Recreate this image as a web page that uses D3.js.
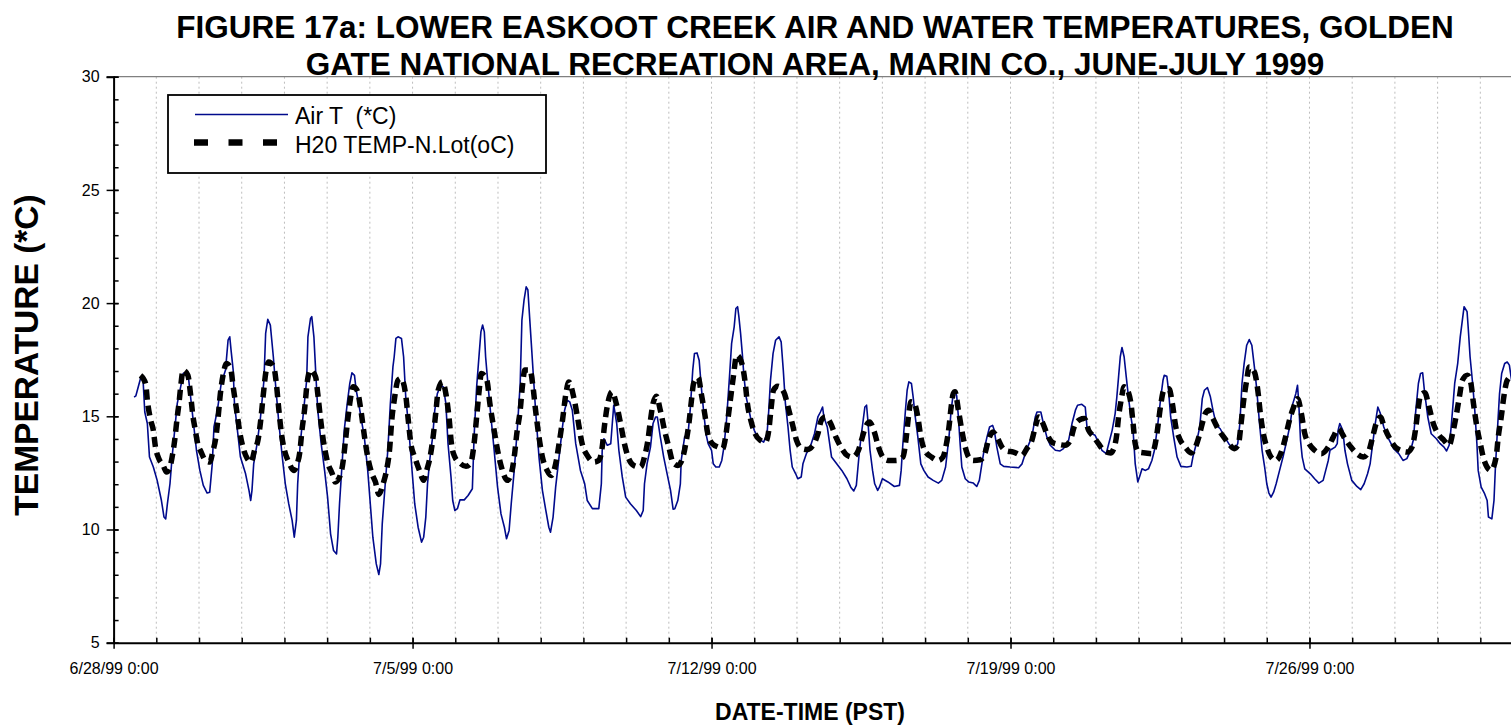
<!DOCTYPE html>
<html><head><meta charset="utf-8">
<script src="https://cdn.jsdelivr.net/npm/d3@7"></script>
<style>
html,body{margin:0;padding:0;background:#fff;}
svg{display:block;font-family:"Liberation Sans",Arial,sans-serif;}
</style></head>
<body>
<svg id="chart" width="1511" height="727"></svg>
<script>
// ---- DATA (day offset from 6/28/99 0:00, temperature °C) ----
const startDate = new Date(1999, 5, 28, 0, 0);
const titleLines = ["FIGURE 17a: LOWER EASKOOT CREEK AIR AND WATER TEMPERATURES, GOLDEN",
                    "GATE NATIONAL RECREATION AREA, MARIN CO., JUNE-JULY 1999"];
const seriesNames = ["Air T  (*C)", "H20 TEMP-N.Lot(oC)"];
const yMajorTicks = [5, 10, 15, 20, 25, 30];
const xMajorTickDays = [0, 7, 14, 21, 28];

const airT = [[0.48,15.85],[0.52,15.9],[0.63,16.67],[0.69,16.6],[0.73,15.19],[0.79,14.68],[0.84,13.2],[0.93,12.76],[1.02,12.17],[1.12,11.28],[1.18,10.55],[1.22,10.47],[1.26,11.14],[1.32,12.02],[1.37,13.2],[1.43,14.38],[1.49,15.56],[1.57,16.3],[1.63,16.89],[1.71,16.96],[1.76,16.59],[1.82,15.56],[1.88,14.53],[1.94,13.5],[2.02,12.61],[2.1,11.95],[2.19,11.61],[2.25,11.65],[2.31,12.9],[2.35,14.53],[2.43,15.27],[2.52,16.45],[2.62,17.04],[2.68,18.36],[2.72,18.51],[2.75,17.92],[2.8,17.04],[2.83,15.56],[2.89,14.53],[2.97,13.2],[3.09,12.46],[3.17,11.73],[3.21,11.28],[3.24,11.73],[3.28,12.9],[3.36,13.79],[3.44,14.97],[3.52,16.59],[3.56,18.66],[3.61,19.28],[3.67,19.03],[3.74,17.63],[3.79,16.45],[3.87,14.68],[3.95,13.2],[4.02,12.02],[4.1,11.14],[4.18,10.4],[4.23,9.66],[4.28,10.4],[4.31,12.02],[4.37,13.79],[4.45,15.27],[4.52,16.59],[4.55,18.51],[4.61,19.32],[4.64,19.4],[4.69,18.51],[4.73,17.04],[4.78,15.27],[4.86,13.79],[4.94,12.61],[5.01,11.43],[5.08,9.81],[5.15,9.07],[5.22,8.92],[5.25,9.66],[5.29,11.14],[5.36,13.2],[5.4,14.38],[5.47,15.56],[5.53,16.45],[5.58,16.92],[5.64,16.81],[5.68,16.15],[5.74,15.56],[5.79,14.97],[5.87,14.09],[5.95,12.61],[6.01,11.14],[6.07,9.66],[6.15,8.48],[6.21,8.01],[6.25,8.48],[6.29,10.25],[6.36,12.02],[6.42,13.5],[6.48,15.56],[6.54,17.18],[6.57,17.63],[6.61,18.44],[6.66,18.51],[6.74,18.44],[6.79,17.63],[6.84,15.86],[6.9,14.68],[6.95,13.5],[7.0,12.32],[7.05,11.14],[7.13,10.1],[7.21,9.44],[7.26,9.66],[7.31,10.55],[7.35,12.02],[7.41,13.2],[7.47,14.09],[7.52,15.27],[7.58,16.0],[7.66,16.37],[7.72,16.3],[7.78,15.56],[7.83,13.79],[7.9,12.32],[7.94,11.28],[7.99,10.84],[8.05,10.92],[8.11,11.31],[8.21,11.31],[8.3,11.5],[8.4,11.8],[8.44,14.09],[8.5,16.3],[8.56,17.77],[8.6,18.73],[8.64,19.03],[8.68,18.73],[8.71,17.63],[8.77,16.3],[8.85,14.68],[8.91,13.5],[8.99,11.87],[9.07,10.69],[9.15,10.1],[9.2,9.59],[9.26,9.96],[9.31,11.14],[9.38,12.61],[9.45,14.38],[9.52,16.45],[9.56,19.25],[9.61,20.13],[9.66,20.72],[9.7,20.58],[9.73,19.69],[9.78,18.22],[9.83,16.74],[9.88,15.27],[9.96,13.2],[10.04,11.73],[10.12,10.84],[10.19,10.1],[10.23,9.88],[10.29,10.55],[10.35,11.87],[10.43,13.2],[10.51,14.53],[10.56,15.27],[10.62,15.71],[10.68,15.64],[10.74,15.27],[10.82,13.79],[10.93,12.61],[11.03,12.02],[11.09,11.28],[11.21,10.92],[11.36,10.92],[11.42,12.02],[11.44,13.5],[11.48,14.01],[11.56,13.72],[11.64,13.79],[11.67,14.53],[11.71,15.49],[11.78,14.68],[11.83,13.5],[11.91,12.32],[11.99,11.43],[12.1,11.14],[12.24,10.84],[12.34,10.57],[12.4,10.84],[12.43,12.02],[12.49,12.9],[12.57,13.64],[12.63,14.68],[12.69,14.97],[12.73,14.97],[12.8,14.09],[12.88,13.2],[12.96,12.46],[13.04,11.73],[13.1,10.9],[13.14,10.92],[13.21,11.28],[13.27,12.02],[13.29,13.05],[13.37,14.09],[13.45,14.23],[13.5,15.27],[13.56,17.04],[13.6,17.77],[13.66,17.8],[13.71,17.48],[13.76,16.3],[13.82,15.12],[13.87,14.23],[13.92,13.79],[14.0,13.5],[14.04,12.9],[14.1,12.76],[14.18,12.76],[14.24,13.05],[14.29,13.64],[14.35,14.82],[14.42,16.74],[14.47,18.22],[14.53,18.95],[14.57,19.76],[14.61,19.84],[14.64,19.4],[14.68,18.66],[14.72,17.77],[14.76,16.74],[14.81,15.86],[14.91,14.97],[15.0,14.38],[15.1,14.01],[15.22,13.86],[15.3,14.23],[15.34,15.27],[15.38,16.59],[15.44,17.77],[15.5,18.36],[15.58,18.51],[15.63,18.29],[15.68,17.04],[15.73,15.56],[15.79,14.53],[15.84,13.5],[15.89,12.76],[15.97,12.46],[16.02,12.24],[16.1,12.32],[16.14,12.9],[16.22,13.35],[16.31,13.64],[16.41,14.23],[16.49,14.97],[16.55,15.19],[16.6,15.41],[16.63,14.97],[16.71,14.53],[16.81,13.2],[16.93,12.9],[17.05,12.61],[17.17,12.24],[17.26,11.87],[17.33,11.7],[17.39,11.95],[17.45,13.2],[17.5,14.09],[17.55,14.82],[17.59,15.41],[17.63,15.49],[17.66,14.82],[17.71,13.5],[17.77,12.61],[17.82,12.02],[17.89,11.73],[17.93,11.87],[18.0,12.24],[18.13,12.1],[18.28,11.9],[18.4,11.95],[18.44,12.61],[18.48,13.79],[18.54,15.27],[18.58,16.15],[18.62,16.52],[18.68,16.45],[18.72,15.86],[18.77,14.97],[18.83,14.09],[18.9,12.9],[18.97,12.61],[19.07,12.32],[19.19,12.17],[19.31,12.05],[19.39,12.17],[19.48,12.76],[19.56,14.09],[19.61,15.27],[19.66,16.0],[19.7,16.15],[19.74,15.9],[19.78,14.97],[19.82,13.79],[19.86,12.76],[19.94,12.24],[20.02,12.1],[20.13,12.05],[20.21,11.9],[20.27,12.17],[20.33,12.9],[20.38,13.5],[20.45,14.09],[20.51,14.53],[20.58,14.6],[20.62,14.38],[20.68,13.64],[20.76,12.9],[20.84,12.79],[20.99,12.76],[21.19,12.73],[21.27,12.9],[21.32,13.2],[21.4,13.64],[21.5,14.09],[21.58,14.97],[21.62,15.19],[21.71,15.19],[21.77,14.68],[21.85,14.09],[21.93,13.72],[22.05,13.5],[22.16,13.47],[22.24,13.57],[22.36,13.94],[22.44,14.68],[22.52,15.27],[22.57,15.49],[22.67,15.53],[22.75,15.41],[22.79,14.53],[22.87,14.26],[22.98,14.16],[23.06,13.86],[23.14,13.5],[23.24,13.35],[23.3,13.79],[23.38,14.38],[23.45,15.12],[23.49,15.86],[23.53,16.74],[23.57,17.63],[23.61,18.04],[23.66,17.63],[23.71,16.74],[23.77,15.71],[23.82,14.97],[23.87,14.38],[23.92,12.9],[23.98,12.1],[24.02,12.32],[24.08,12.68],[24.16,12.61],[24.23,12.68],[24.31,13.05],[24.37,13.5],[24.45,14.68],[24.52,15.86],[24.57,16.59],[24.6,16.81],[24.66,16.77],[24.7,16.15],[24.75,14.97],[24.82,14.09],[24.9,13.2],[24.99,12.79],[25.13,12.76],[25.23,12.79],[25.27,13.2],[25.35,13.79],[25.43,14.53],[25.49,15.78],[25.54,16.15],[25.61,16.27],[25.68,15.86],[25.74,15.27],[25.82,14.6],[25.91,14.45],[26.01,14.09],[26.11,13.79],[26.24,13.5],[26.32,13.79],[26.37,14.68],[26.42,16.45],[26.47,17.33],[26.53,18.14],[26.59,18.39],[26.65,18.14],[26.71,17.18],[26.76,16.3],[26.83,14.68],[26.89,13.5],[26.95,12.76],[27.0,12.02],[27.05,11.61],[27.1,11.43],[27.16,11.65],[27.22,12.02],[27.3,12.61],[27.38,13.2],[27.47,13.94],[27.55,14.68],[27.61,15.56],[27.68,16.0],[27.72,16.37],[27.75,15.56],[27.79,13.94],[27.83,13.2],[27.89,12.68],[28.02,12.46],[28.12,12.24],[28.22,12.05],[28.32,12.17],[28.38,12.61],[28.44,13.05],[28.48,13.5],[28.6,13.64],[28.65,13.79],[28.67,14.38],[28.71,14.68],[28.78,14.38],[28.83,13.5],[28.89,12.9],[28.99,12.17],[29.11,11.9],[29.2,11.76],[29.28,12.02],[29.36,12.46],[29.42,12.9],[29.48,13.79],[29.54,14.68],[29.6,15.41],[29.66,15.12],[29.74,14.53],[29.85,14.01],[29.97,13.57],[30.09,13.35],[30.19,13.05],[30.28,13.13],[30.37,13.5],[30.43,13.94],[30.49,15.27],[30.55,16.45],[30.6,16.89],[30.65,16.92],[30.69,16.15],[30.77,14.97],[30.85,14.23],[30.97,14.01],[31.06,13.79],[31.15,13.64],[31.21,13.47],[31.27,13.72],[31.31,14.38],[31.35,15.27],[31.4,16.45],[31.47,17.33],[31.53,18.51],[31.59,19.4],[31.62,19.84],[31.69,19.62],[31.72,18.81],[31.76,17.63],[31.82,16.45],[31.87,15.27],[31.92,13.79],[31.95,12.61],[32.02,11.87],[32.1,11.58],[32.16,11.28],[32.19,10.55],[32.27,10.47],[32.32,11.28],[32.35,12.61],[32.4,14.38],[32.45,16.0],[32.5,16.89],[32.57,17.33],[32.63,17.4],[32.68,17.26],[32.72,16.74],[32.76,16.3]];

const waterT = [[0.63,16.81],[0.75,16.45],[0.79,15.71],[0.87,14.82],[0.93,14.38],[0.98,13.64],[1.06,13.13],[1.16,12.83],[1.24,12.54],[1.32,12.76],[1.37,13.2],[1.43,13.94],[1.49,14.97],[1.53,15.56],[1.57,16.3],[1.63,17.04],[1.74,16.81],[1.8,16.0],[1.86,14.97],[1.9,14.53],[1.97,13.79],[2.05,13.42],[2.15,13.05],[2.25,12.98],[2.33,13.5],[2.39,14.01],[2.44,14.82],[2.5,16.0],[2.57,16.89],[2.64,17.33],[2.74,17.11],[2.8,16.3],[2.88,15.27],[2.96,14.23],[3.05,13.5],[3.13,13.13],[3.22,12.98],[3.3,13.5],[3.38,13.94],[3.44,14.75],[3.5,15.86],[3.56,16.89],[3.63,17.4],[3.75,17.18],[3.81,16.45],[3.87,15.27],[3.93,14.23],[4.0,13.5],[4.1,12.98],[4.22,12.61],[4.3,12.9],[4.36,13.42],[4.41,14.38],[4.47,15.27],[4.53,16.45],[4.61,17.04],[4.73,16.74],[4.78,16.0],[4.84,14.97],[4.91,13.94],[5.0,13.05],[5.12,12.46],[5.19,12.1],[5.29,12.32],[5.36,12.83],[5.43,13.94],[5.48,14.82],[5.54,15.71],[5.61,16.3],[5.7,16.15],[5.79,15.27],[5.87,14.16],[5.95,13.2],[6.05,12.46],[6.13,12.1],[6.21,11.55],[6.31,12.02],[6.39,12.61],[6.46,13.5],[6.52,14.97],[6.57,15.7],[6.66,16.6],[6.73,16.67],[6.84,15.93],[6.9,14.82],[6.96,13.79],[7.05,13.2],[7.16,12.61],[7.26,12.17],[7.33,12.61],[7.41,13.2],[7.49,14.23],[7.55,15.27],[7.6,16.15],[7.7,16.52],[7.78,16.0],[7.86,14.82],[7.91,13.79],[7.99,13.2],[8.11,12.93],[8.25,12.79],[8.36,12.93],[8.44,13.79],[8.5,14.97],[8.56,16.15],[8.61,16.89],[8.74,16.59],[8.81,15.56],[8.91,14.38],[8.99,13.5],[9.08,12.76],[9.22,12.17],[9.31,12.46],[9.38,13.2],[9.44,14.23],[9.52,15.27],[9.57,16.3],[9.63,17.04],[9.75,17.04],[9.82,16.3],[9.88,15.27],[9.96,14.09],[10.04,13.2],[10.15,12.61],[10.25,12.39],[10.35,12.9],[10.43,13.79],[10.51,14.82],[10.59,16.0],[10.66,16.52],[10.78,15.78],[10.86,14.97],[10.97,13.79],[11.09,13.27],[11.24,12.98],[11.36,13.05],[11.44,13.64],[11.49,14.53],[11.57,15.56],[11.67,16.08],[11.77,15.56],[11.87,14.68],[11.96,13.79],[12.06,13.13],[12.18,12.83],[12.34,12.76],[12.43,13.2],[12.51,13.94],[12.57,14.82],[12.63,15.56],[12.71,15.89],[12.8,15.27],[12.9,14.38],[13.0,13.64],[13.1,12.95],[13.21,12.83],[13.33,13.2],[13.41,13.94],[13.47,14.68],[13.53,15.71],[13.58,16.45],[13.69,16.71],[13.76,16.0],[13.84,15.12],[13.92,14.16],[14.02,13.79],[14.16,13.64],[14.26,13.57],[14.34,14.23],[14.39,14.97],[14.45,15.86],[14.51,16.74],[14.59,17.7],[14.71,17.33],[14.79,16.45],[14.84,15.56],[14.92,14.82],[15.02,14.23],[15.14,13.94],[15.26,13.86],[15.34,14.38],[15.39,15.27],[15.45,16.15],[15.55,16.33],[15.69,16.08],[15.81,15.27],[15.89,14.68],[15.99,13.94],[16.12,13.57],[16.24,13.53],[16.4,13.79],[16.49,14.23],[16.57,14.82],[16.67,14.97],[16.79,14.68],[16.91,14.09],[17.03,13.64],[17.18,13.27],[17.3,13.2],[17.44,13.5],[17.51,13.94],[17.59,14.45],[17.7,14.75],[17.81,14.31],[17.91,13.64],[18.01,13.2],[18.13,13.05],[18.32,13.05],[18.48,13.2],[18.56,14.09],[18.61,14.97],[18.67,15.64],[18.75,15.56],[18.83,14.97],[18.9,14.09],[18.99,13.5],[19.15,13.2],[19.31,13.05],[19.42,13.2],[19.5,13.79],[19.56,14.53],[19.61,15.41],[19.66,16.0],[19.7,16.08],[19.78,15.27],[19.86,14.38],[19.94,13.64],[20.02,13.2],[20.13,13.05],[20.29,13.08],[20.41,13.42],[20.48,13.94],[20.59,14.31],[20.68,14.09],[20.8,13.64],[20.91,13.47],[21.07,13.42],[21.27,13.27],[21.38,13.57],[21.5,13.94],[21.58,14.53],[21.66,14.97],[21.76,14.68],[21.85,14.23],[21.97,13.86],[22.13,13.76],[22.28,13.72],[22.4,13.94],[22.49,14.53],[22.62,14.85],[22.73,14.9],[22.83,14.38],[22.95,14.09],[23.06,13.79],[23.18,13.5],[23.34,13.38],[23.43,13.64],[23.49,14.23],[23.53,14.97],[23.59,15.71],[23.66,16.3],[23.77,16.0],[23.82,15.56],[23.87,14.68],[23.92,13.79],[24.0,13.42],[24.16,13.38],[24.31,13.35],[24.39,13.79],[24.45,14.53],[24.51,15.41],[24.59,16.15],[24.71,16.22],[24.79,15.56],[24.87,14.53],[24.96,14.01],[25.09,13.64],[25.23,13.38],[25.33,13.64],[25.41,14.09],[25.49,14.68],[25.56,15.12],[25.64,15.27],[25.74,14.9],[25.88,14.38],[25.99,14.09],[26.11,13.79],[26.24,13.57],[26.34,13.79],[26.39,14.53],[26.45,15.56],[26.53,16.59],[26.59,17.18],[26.71,16.96],[26.79,16.15],[26.85,15.12],[26.92,14.23],[27.0,13.64],[27.1,13.2],[27.22,13.05],[27.34,13.42],[27.44,14.09],[27.53,14.82],[27.63,15.41],[27.72,15.78],[27.81,15.12],[27.89,14.23],[27.99,13.79],[28.12,13.5],[28.28,13.35],[28.44,13.64],[28.56,14.09],[28.67,14.45],[28.83,14.01],[28.97,13.64],[29.11,13.35],[29.26,13.2],[29.38,13.42],[29.48,14.09],[29.56,14.68],[29.66,14.97],[29.75,14.53],[29.88,14.01],[30.01,13.64],[30.13,13.5],[30.29,13.42],[30.4,13.64],[30.48,14.38],[30.54,15.27],[30.6,15.93],[30.7,16.04],[30.8,15.41],[30.9,14.68],[31.01,14.23],[31.15,13.94],[31.27,13.72],[31.35,14.23],[31.43,14.97],[31.51,15.86],[31.58,16.59],[31.7,16.81],[31.78,16.45],[31.84,15.56],[31.92,14.53],[32.0,13.79],[32.09,13.05],[32.25,12.61],[32.37,13.2],[32.42,14.09],[32.49,14.97],[32.55,15.86],[32.63,16.59],[32.72,16.74],[32.78,16.7]];

// ---- LAYOUT ----
const svg = d3.select("#chart");
const plotLeft = 113.6, plotTop = 76.7, plotBottom = 642.7, pxPerDay = 42.71;
const dayMs = 864e5;
const toDate = d => new Date(startDate.getTime() + d * dayMs);
const endDate = toDate(33);
const x = d3.scaleTime().domain([startDate, endDate]).range([plotLeft, plotLeft + 33 * pxPerDay]);
const y = d3.scaleLinear().domain([5, 30]).range([plotBottom, plotTop]);

const allDays = d3.range(0, 34).map(toDate);
const majorDates = xMajorTickDays.map(toDate);
const fmt = d3.timeFormat("%-m/%-d/%y %-H:%M");
const fontFam = '"Liberation Sans",Arial,sans-serif';

// vertical dotted gridlines (daily)
svg.append("g").selectAll("line").data(allDays.slice(1)).join("line")
  .attr("x1", d => x(d)).attr("x2", d => x(d))
  .attr("y1", plotTop).attr("y2", plotBottom)
  .attr("stroke", "#bdbdbd").attr("stroke-width", 1).attr("stroke-dasharray", "2,3");

// top border
svg.append("line").attr("x1", plotLeft).attr("x2", 1511).attr("y1", plotTop).attr("y2", plotTop)
  .attr("stroke", "#808080").attr("stroke-width", 1.2);

// Lines
const lineAir = d3.line().x(d => x(toDate(d[0]))).y(d => y(d[1])).curve(d3.curveLinear);
const lineWater = d3.line().x(d => x(toDate(d[0]))).y(d => y(d[1])).curve(d3.curveMonotoneX);

svg.append("path").datum(airT).attr("d", lineAir)
  .attr("fill", "none").attr("stroke", "#000a8c").attr("stroke-width", 1.6).attr("stroke-linejoin", "round");
svg.append("path").datum(waterT).attr("d", lineWater)
  .attr("fill", "none").attr("stroke", "#000").attr("stroke-width", 5.5).attr("stroke-dasharray", "10,6");

// X axis minor (daily) ticks - inside
const xMinor = svg.append("g").attr("transform", `translate(0,${plotBottom})`)
  .call(d3.axisBottom(x).tickValues(allDays).tickSize(-5).tickFormat(""));
xMinor.select(".domain").remove();
xMinor.selectAll(".tick line").attr("stroke", "#000").attr("stroke-width", 1.5);

// X axis major
const xMajor = svg.append("g").attr("transform", `translate(0,${plotBottom})`)
  .call(d3.axisBottom(x).tickValues(majorDates).tickSizeOuter(0).tickFormat(fmt));
xMajor.select(".domain").attr("stroke", "#000").attr("stroke-width", 2);
xMajor.selectAll(".tick line").attr("y1", -5).attr("y2", 6).attr("stroke", "#000").attr("stroke-width", 1.5);
xMajor.selectAll(".tick text").attr("y", 20).attr("dy", "0.71em")
  .style("font-size", "16px").style("font-family", fontFam).attr("fill", "#000");

// Y axis minor ticks (inside)
const yMinor = svg.append("g").attr("transform", `translate(${plotLeft},0)`)
  .call(d3.axisLeft(y).tickValues(d3.range(5, 31, 1)).tickSize(-5).tickFormat(""));
yMinor.select(".domain").remove();
yMinor.selectAll(".tick line").attr("stroke", "#000").attr("stroke-width", 1.5);

// Y axis major
const yMajor = svg.append("g").attr("transform", `translate(${plotLeft},0)`)
  .call(d3.axisLeft(y).tickValues(yMajorTicks).tickSizeOuter(0).tickSize(7).tickPadding(7));
yMajor.select(".domain").attr("stroke", "#000").attr("stroke-width", 2);
yMajor.selectAll(".tick line").attr("stroke", "#000").attr("stroke-width", 1.5).attr("x2", -7).attr("x1", 5);
yMajor.selectAll(".tick text").style("font-size", "16px")
  .style("font-family", fontFam).attr("fill", "#000");

// Title
svg.append("g").selectAll("text").data(titleLines).join("text")
  .attr("x", 815).attr("y", (d, i) => 38 + i * 37)
  .attr("text-anchor", "middle").attr("font-weight", "bold").attr("font-size", 31.5)
  .text(d => d);

// Axis titles
svg.append("text").attr("x", 810).attr("y", 720).attr("text-anchor", "middle")
  .attr("font-weight", "bold").attr("font-size", 23).text("DATE-TIME (PST)");
svg.append("text").attr("transform", "translate(38,355) rotate(-90)").attr("text-anchor", "middle")
  .attr("font-weight", "bold").attr("font-size", 33.5).text("TEMPERATURE (*C)");

// Legend
const lg = svg.append("g");
lg.append("rect").attr("x", 168).attr("y", 95).attr("width", 378).attr("height", 78)
  .attr("fill", "#fff").attr("stroke", "#000").attr("stroke-width", 1.8);
lg.append("line").attr("x1", 195).attr("x2", 288).attr("y1", 114.5).attr("y2", 114.5)
  .attr("stroke", "#000a8c").attr("stroke-width", 1.6);
lg.append("line").attr("x1", 194).attr("x2", 277).attr("y1", 142.5).attr("y2", 142.5)
  .attr("stroke", "#000").attr("stroke-width", 6.5).attr("stroke-dasharray", "14,20.5");
lg.selectAll("text").data(seriesNames).join("text")
  .attr("x", 295).attr("y", (d, i) => 124 + i * 29)
  .attr("font-size", 23).style("white-space", "pre").text(d => d);
</script>
</body></html>
